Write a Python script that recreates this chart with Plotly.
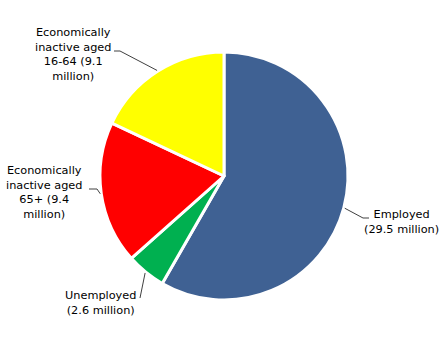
import math
import plotly.graph_objects as go

labels = ["Employed", "Unemployed", "Economically inactive aged 65+", "Economically inactive aged 16-64"]
values = [29.5, 2.6, 9.4, 9.1]
label_texts = ["Employed<br>(29.5 million)", "Unemployed<br>(2.6 million)",
               "Economically<br>inactive aged<br>65+ (9.4<br>million)",
               "Economically<br>inactive aged<br>16-64 (9.1<br>million)"]
colors = ["#3F6193", "#00B050", "#FF0000", "#FFFF00"]

W, H = 445, 354
cx, cy, R = 224, 176, 124

def px(x):
    return x / W

def py(y):
    return 1 - y / H

fig = go.Figure(go.Pie(
    labels=labels, values=values, sort=False, direction="clockwise", rotation=0,
    marker=dict(colors=colors, line=dict(color="white", width=3)),
    textinfo="none", hoverinfo="label+value", showlegend=False,
    domain=dict(x=[px(cx - R), px(cx + R)], y=[py(cy + R), py(cy - R)]),
))

# label positions (pixel centres) and leader elbow/end points
label_pos = [(401, 222), (100, 303), (44, 192), (73, 55)]
elbows = [((363, 218), (369, 218)), ((140, 298), (140, 298)),
          ((97, 189), (89, 189)), ((120, 51), (114, 51))]

total = sum(values)
cum = 0
shapes = []
annotations = []
for i, v in enumerate(values):
    mid = (cum + v / 2) / total * 2 * math.pi
    cum += v
    sx = cx + (R + 1) * math.sin(mid)
    sy = cy - (R + 1) * math.cos(mid)
    (ex, ey), (hx, hy) = elbows[i]
    path = f"M {px(sx)},{py(sy)} L {px(ex)},{py(ey)} L {px(hx)},{py(hy)}"
    shapes.append(dict(type="path", xref="paper", yref="paper", path=path,
                       line=dict(color="#404040", width=1)))
    lx, ly = label_pos[i]
    annotations.append(dict(x=px(lx), y=py(ly), xref="paper", yref="paper",
                            text=label_texts[i], showarrow=False, align="center",
                            xanchor="center", yanchor="middle",
                            font=dict(family="DejaVu Sans", size=11.3, color="black")))

fig.update_layout(width=W, height=H, margin=dict(l=0, r=0, t=0, b=0),
                  paper_bgcolor="white", plot_bgcolor="white",
                  shapes=shapes, annotations=annotations)
fig.write_html("out.html")
